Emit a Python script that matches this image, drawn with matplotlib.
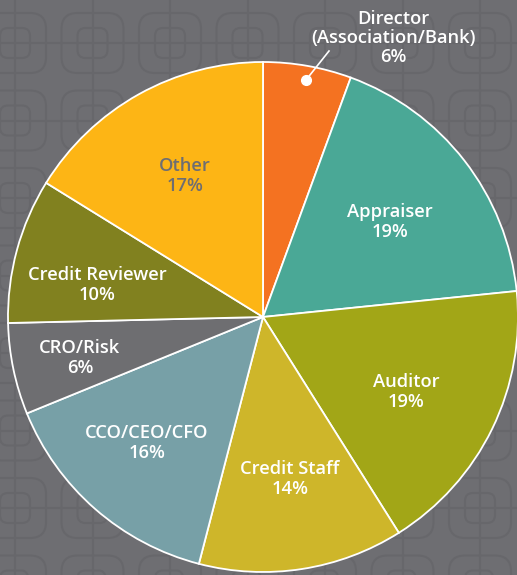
import matplotlib.pyplot as plt
from matplotlib.patches import FancyBboxPatch

# 数据（按图上角度估算）
roles = ["Director\n(Association/Bank)", "Appraiser", "Auditor", "Credit Staff",
         "CCO/CEO/CFO", "CRO/Risk", "Credit Reviewer", "Other"]
shares = [5.6, 17.8, 17.7, 13.0, 14.8, 5.8, 9.2, 16.2]
pct_labels = ["6%", "19%", "19%", "14%", "16%", "6%", "10%", "17%"]
colors = ["#F47221", "#4AA896", "#A2A617", "#CEB62A",
          "#77A0A7", "#6E6E71", "#81811F", "#FDB515"]

W, H = 517, 575
bg = "#6E6E72"
line_c = "#67676B"

fig = plt.figure(figsize=(W / 100, H / 100), dpi=100)
ax = fig.add_axes([0, 0, 1, 1])
fig.patch.set_facecolor(bg)

# 背景花纹
step = 77.5
for i in range(-1, 8):
    gx = 15 + i * step
    ax.plot([gx, gx], [0, H], color=line_c, lw=1.5, zorder=0)
for j in range(-1, 9):
    gy = H - (43 + j * step)
    ax.plot([0, W], [gy, gy], color=line_c, lw=1.5, zorder=0)
for i in range(-1, 8):
    gx = 15 + i * step
    for j in range(-1, 9):
        gy = H - (43 + j * step)
        ax.add_patch(FancyBboxPatch((gx - 31, gy - 30), 62, 60,
                                    boxstyle="round,pad=0,rounding_size=16",
                                    fill=False, ec=line_c, lw=1.5, zorder=0))
        ax.add_patch(FancyBboxPatch((gx - 15, gy - 15), 30, 30,
                                    boxstyle="round,pad=0,rounding_size=8",
                                    fill=False, ec=line_c, lw=1.5, zorder=0))

cx, cy, r = 263, H - 317, 255
wedges, _ = ax.pie(shares, colors=colors, startangle=90, counterclock=False,
                   center=(cx, cy), radius=r, frame=True,
                   wedgeprops=dict(edgecolor="white", linewidth=1.3))
for w in wedges:
    w.set_zorder(2)
ax.set_xlim(0, W)
ax.set_ylim(0, H)
ax.set_aspect("equal")
ax.axis("off")

# 标签位置（像素坐标）
label_pos = [(393, 38), (390, 222), (406, 392), (290, 479),
             (147, 443), (80, 358), (97, 285), (185, 176)]
txt_colors = ["white"] * 7 + ["#6E6E72"]
font = dict(family=["Open Sans", "DejaVu Sans"], weight="semibold",
            fontsize=13.2, ha="center", va="center", linespacing=1.1)
for k in range(len(roles)):
    x, y = label_pos[k]
    ax.text(x, H - y, roles[k] + "\n" + pct_labels[k], color=txt_colors[k],
            zorder=5, **font)

# Director 引线
ax.plot([329, 306], [H - 51, H - 80], color="white", lw=1.2, zorder=4)
ax.plot([306], [H - 80], "o", color="white", ms=7, zorder=4)

fig.savefig("out.png", dpi=100, facecolor=bg)
